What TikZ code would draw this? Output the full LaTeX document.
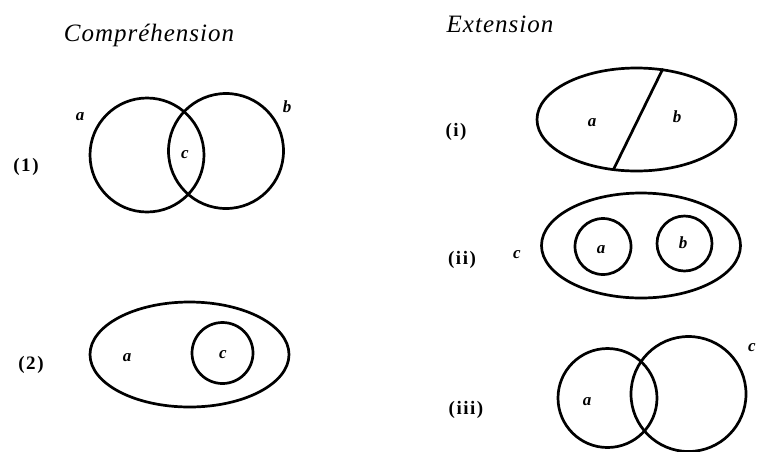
\documentclass[tikz,border=0pt]{standalone}
\usepackage{fontspec}
\setmainfont{Liberation Serif}
\usetikzlibrary{shapes.geometric}
\tikzset{
  shp/.style={draw, line width=2.7pt, inner sep=0pt, outer sep=0pt},
  circ/.style={shp, circle, minimum size=#1},
  ell/.style={shp, ellipse},
  lbl/.style={font=\fontsize{17}{17}\selectfont\bfseries\itshape, inner sep=0pt},
  num/.style={font=\fontsize{19}{19}\selectfont\bfseries\addfontfeatures{LetterSpace=8}, inner sep=0pt},
  ttl/.style={font=\fontsize{25}{25}\selectfont\itshape\addfontfeatures{LetterSpace=4}, inner sep=0pt}
}
\begin{document}
\begin{tikzpicture}[x=1pt,y=-1pt]
\useasboundingbox (0,0) rectangle (759,451);
% titles
\node[ttl] (t1) at (149,35) {Compréhension};
\node[ttl] (t2) at (500,24) {Extension};
% (1)
\node[circ=114pt] (c1a) at (147,155) {};
\node[circ=115pt] (c1b) at (226,151) {};
\node[lbl] (l1a) at (80,117) {a};
\node[lbl] (l1b) at (287,107) {b};
\node[lbl] (l1c) at (185,155) {c};
\node[num] (n1) at (26,167) {(1)};
% (2)
\node[ell, minimum width=199pt, minimum height=105pt] (e2) at (189.5,354.5) {};
\node[circ=61pt] (c2) at (222.5,353) {};
\node[lbl] (l2a) at (127,358) {a};
\node[lbl] (l2c) at (223,355) {c};
\node[num] (n2) at (31,365) {(2)};
% (i)
\node[ell, minimum width=199pt, minimum height=103pt] (ei) at (636.5,119.5) {};
\coordinate (itop) at (663,68.5);
\coordinate (ibot) at (613,170.5);
\draw[line width=2.7pt] (itop) -- (ibot);
\node[lbl] (lia) at (592,123) {a};
\node[lbl] (lib) at (677,117) {b};
\node[num] (ni) at (456,132) {(i)};
% (ii)
\node[ell, minimum width=199pt, minimum height=105pt] (eii) at (641,245.5) {};
\node[circ=56pt] (ciia) at (603,246.5) {};
\node[circ=55pt] (ciib) at (684.5,243.5) {};
\node[lbl] (liia) at (601,250) {a};
\node[lbl] (liib) at (683,243) {b};
\node[lbl] (liic) at (517,255) {c};
\node[num] (nii) at (462,260) {(ii)};
% (iii)
\node[circ=99pt] (ciiia) at (607.5,398) {};
\node[circ=115pt] (ciiic) at (688.5,394) {};
\node[lbl] (liiia) at (587,402) {a};
\node[lbl] (liiic) at (752,348) {c};
\node[num] (niii) at (466,410) {(iii)};
\end{tikzpicture}
\end{document}
